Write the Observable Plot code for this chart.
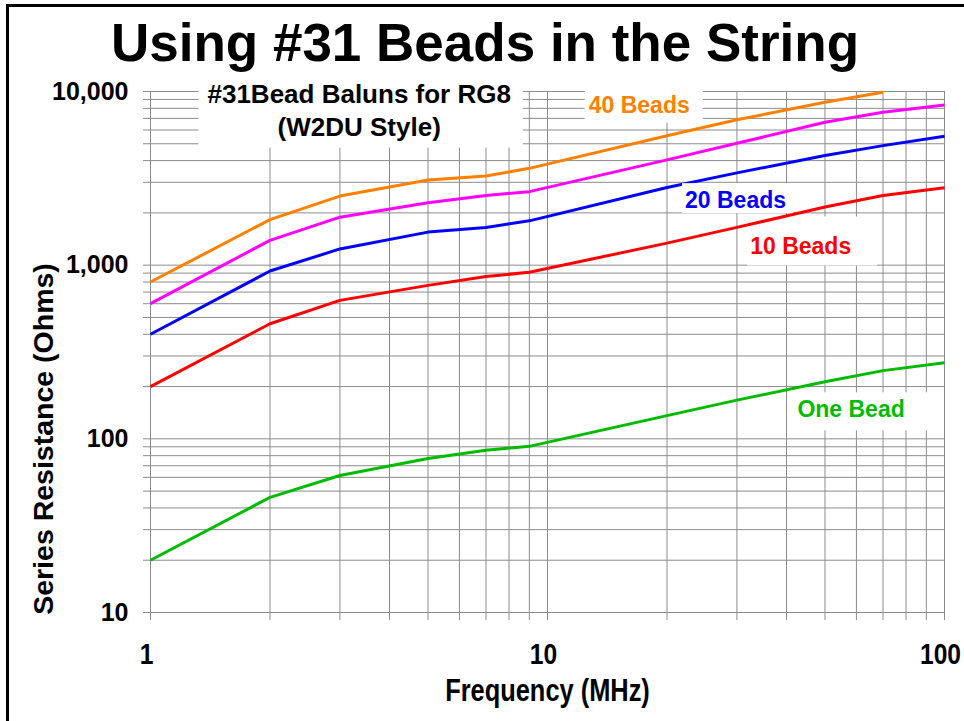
<!DOCTYPE html>
<html>
<head>
<meta charset="utf-8">
<script src="https://cdn.jsdelivr.net/npm/d3@7"></script>
<script src="https://cdn.jsdelivr.net/npm/@observablehq/plot@0.6"></script>
<style>
  html, body { margin: 0; padding: 0; background: #fff; }
  #page { position: relative; width: 964px; height: 721px; overflow: hidden; background: #fff;
          font-family: "Liberation Sans", Arial, sans-serif; }
  #rule-top { position: absolute; left: 6px; top: 4px; right: 0; height: 3px; background: #000; }
  #rule-left { position: absolute; left: 6px; top: 4px; bottom: 0; width: 3px; background: #000; }
  #title { position: absolute; left: 6px; top: 8px; width: 958px; height: 62px; margin: 0;
           text-align: center; font-weight: bold; font-size: 53px; line-height: 70px; color: #000;
           white-space: nowrap; }
  #chart { position: absolute; left: 0; top: 70px; }
</style>
</head>
<body>
<div id="page">
  <div id="rule-top"></div>
  <div id="rule-left"></div>
  <div id="title">Using #31 Beads in the String</div>
  <div id="chart"></div>
</div>
<script>
// Series resistance of #31 ferrite bead baluns on RG8 coax (W2DU style)
const freqs   = [1, 2, 3, 5, 7, 9, 20, 30, 50, 70, 100];          // MHz
const beads40 = [800, 1830, 2500, 3090, 3260, 3610, 5560, 6870, 8670, 9900, null];
const beads30 = [600, 1390, 1890, 2290, 2520, 2650, 4040, 5030, 6650, 7590, 8370];
const beads20 = [400, 925, 1240, 1550, 1650, 1800, 2800, 3400, 4280, 4880, 5520];
const beads10 = [200, 460, 627, 765, 860, 910, 1340, 1650, 2160, 2520, 2790];
const bead1   = [20, 46, 61.5, 77, 86, 90.5, 136, 167, 213, 247, 274];

const seriesNames  = ["40 Beads", "30 Beads", "20 Beads", "10 Beads", "One Bead"];
const seriesValues = [beads40, beads30, beads20, beads10, bead1];
const seriesColors = ["#ff8000", "#ff00ff", "#0000ff", "#ff0000", "#00bb00"];

const xTickLabels = [1, 10, 100];
const yTickLabels = [10, 100, 1000, 10000];
const xGridValues = [1, 2, 3, 4, 5, 6, 7, 8, 9, 10, 20, 30, 40, 50, 60, 70, 80, 90, 100];
const yGridValues = [10, 20, 30, 40, 50, 60, 70, 80, 90, 100, 200, 300, 400, 500, 600, 700, 800, 900,
                     1000, 2000, 3000, 4000, 5000, 6000, 7000, 8000, 9000, 10000];

const xTitle = "Frequency (MHz)";
const yTitle = "Series Resistance (Ohms)";

// Long-format rows for the line mark
const rows = [];
seriesNames.forEach((name, i) => {
  freqs.forEach((f, j) => {
    const r = seriesValues[i][j];
    if (r != null) rows.push({series: name, f, r});
  });
});

// Boxed annotations placed in data space (frequency, resistance);
// pad = [left, right, top, bottom] of the white box, over = box sits above the curves
const notes = [
  {text: "#31Bead Baluns for RG8\n(W2DU Style)", f: 3.355, r: 5570, color: "#000", anchor: "middle", size: 26,
   pad: [9, 12, 3, 6], over: false},
  {text: "40 Beads", f: 12.7, r: 7560, color: "#ff8000", anchor: "start", size: 23, pad: [4, 13, 5, 5], over: false},
  {text: "20 Beads", f: 22.2, r: 2130, color: "#0000ff", anchor: "start", size: 23, pad: [3, 7, 4, 0], over: true},
  {text: "10 Beads", f: 32.4, r: 1152, color: "#ff0000", anchor: "start", size: 23, pad: [3, 26, 17, 6], over: false},
  {text: "One Bead", f: 42.6, r: 133, color: "#00bb00", anchor: "start", size: 23, pad: [4, 23, 4, 8], over: false}
];

const gridColor = "#8c8c8c";
const font = "'Liberation Sans', Arial, sans-serif";

const chart = Plot.plot({
  width: 964,
  height: 651,
  marginLeft: 150,
  marginRight: 20,
  marginTop: 21,
  marginBottom: 109,
  style: {background: "transparent", fontFamily: font},
  x: {type: "log", domain: [1, 100], label: null},
  y: {type: "log", domain: [10, 10000], label: null},
  color: {domain: seriesNames, range: seriesColors},
  marks: [
    Plot.gridX(xGridValues, {stroke: gridColor, strokeOpacity: 1, strokeWidth: 1}),
    Plot.gridY(yGridValues, {stroke: gridColor, strokeOpacity: 1, strokeWidth: 1}),
    // outward tick stubs on every grid line
    Plot.axisX(xGridValues, {tickSize: 8, stroke: gridColor, fill: "none", label: null}),
    Plot.axisY(yGridValues, {tickSize: 7, stroke: gridColor, fill: "none", label: null}),
    // tick labels
    Plot.axisX(xTickLabels, {tickSize: 8, stroke: "none", tickPadding: 22, tickFormat: d => String(d),
      dx: -4, fontSize: 30, fontWeight: "bold", fill: "#000", label: null}),
    Plot.axisY(yTickLabels, {tickSize: 7, stroke: "none", tickPadding: 15, tickFormat: d3.format(","),
      fontSize: 25, fontWeight: "bold", fill: "#000", label: null}),
    // axis titles
    Plot.text([xTitle], {frameAnchor: "bottom", dy: 88, lineAnchor: "bottom",
      fontSize: 31, fontWeight: "bold", fill: "#000"}),
    Plot.text([yTitle], {frameAnchor: "left", rotate: -90, dx: -98, dy: 87,
      textAnchor: "middle", lineAnchor: "bottom", fontSize: 28.5, fontWeight: "bold", fill: "#000"}),
    // resistance curves
    Plot.line(rows, {x: "f", y: "r", z: "series", stroke: "series", strokeWidth: 3,
      strokeLinejoin: "round", strokeLinecap: "butt"}),
    // annotations (boxes added after rendering)
    ...notes.map(n => Plot.text([n], {x: "f", y: "r", text: "text", fill: n.color,
      textAnchor: n.anchor, lineAnchor: "bottom", lineHeight: 1.27,
      fontSize: n.size, fontWeight: "bold"}))
  ]
});

document.getElementById("chart").appendChild(chart);

const allTexts = Array.from(chart.querySelectorAll("text"));

// Condensed lettering for the frequency axis: squeeze horizontally about each label's centre
allTexts
  .filter(t => t.textContent === xTitle || t.closest('g[aria-label="x-axis tick label"]') !== null)
  .forEach(t => {
    const b = t.getBBox();
    const cx = b.x + b.width / 2;
    const tr = t.getAttribute("transform") || "";
    t.setAttribute("transform", `${tr} translate(${cx},0) scale(0.82,1) translate(${-cx},0)`);
  });

// White background boxes behind each annotation
const svgBox = chart.getBoundingClientRect();
const lineGroup = chart.querySelector('g[aria-label="line"]');
notes.forEach(n => {
  const key = n.text.replace(/\n/g, "");
  const t = allTexts.find(el => el.textContent === key);
  if (!t) return;
  const b = t.getBoundingClientRect();
  const [pl, pr, pt, pb] = n.pad;
  const rect = document.createElementNS("http://www.w3.org/2000/svg", "rect");
  rect.setAttribute("x", b.left - svgBox.left - pl);
  rect.setAttribute("y", b.top - svgBox.top - pt);
  rect.setAttribute("width", b.width + pl + pr);
  rect.setAttribute("height", b.height + pt + pb);
  rect.setAttribute("fill", "#fff");
  let group = t.parentNode;
  while (group.parentNode !== chart) group = group.parentNode;
  chart.insertBefore(rect, n.over ? group : lineGroup);
});
</script>
</body>
</html>
